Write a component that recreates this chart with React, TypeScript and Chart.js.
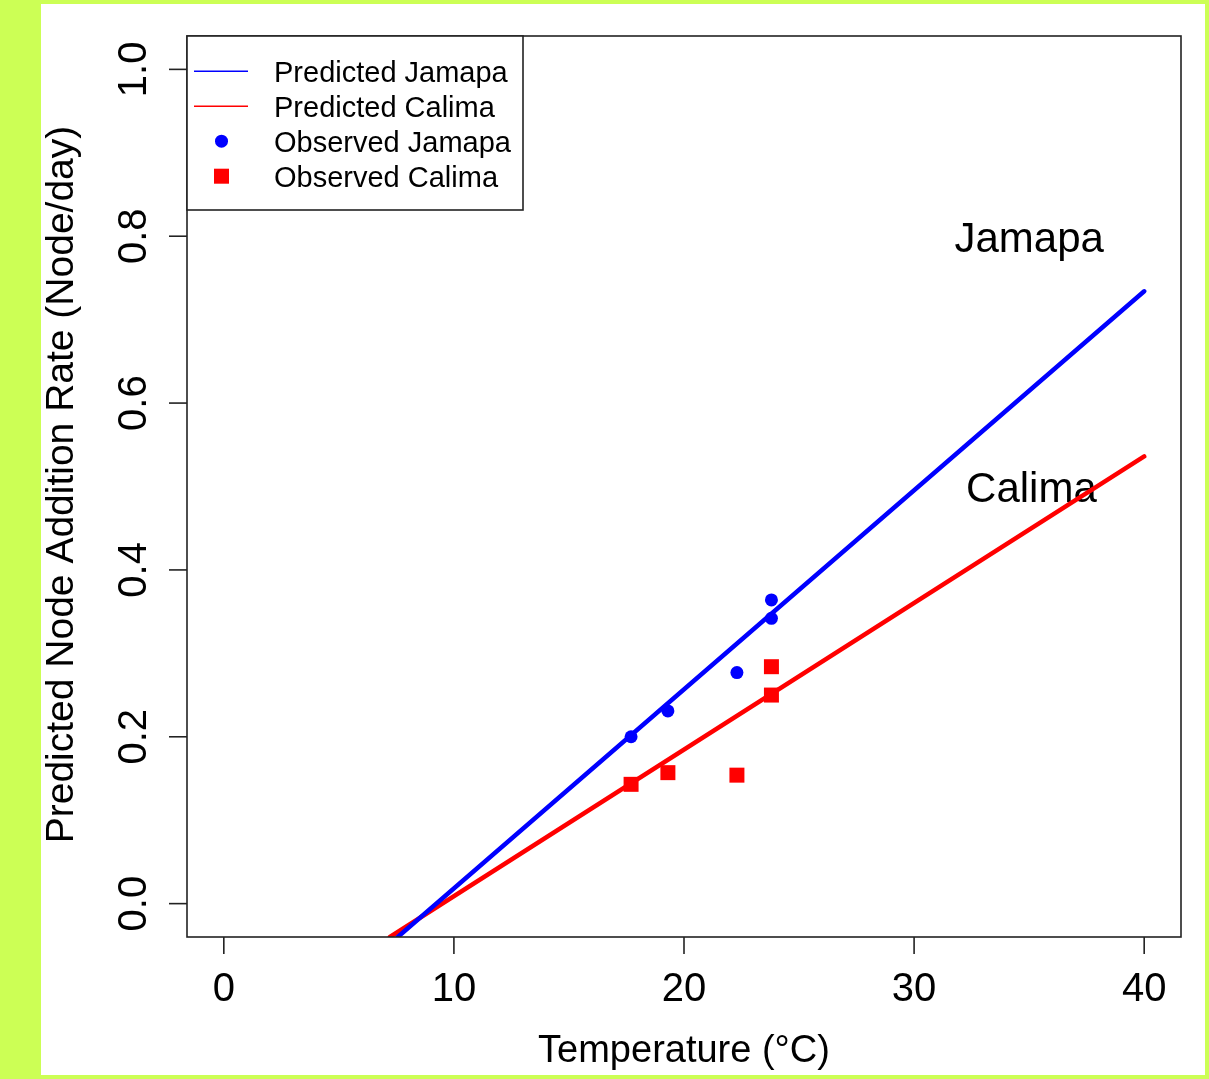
import React, { useEffect, useRef } from "react";
import { Chart, registerables } from "chart.js";

Chart.register(...registerables);

// ---- data ----
const predTempJamapa = [7.56, 40];
const predRateJamapa = [-0.04, 0.734];
const predTempCalima = [7.22, 40];
const predRateCalima = [-0.04, 0.536];

const obsTemp = [17.7, 19.3, 22.3, 23.8, 23.8];
const obsJamapa = [0.2, 0.231, 0.277, 0.342, 0.364];
const obsCalima = [0.143, 0.157, 0.154, 0.284, 0.25];

const xTicks = [0, 10, 20, 30, 40];
const xTickLabels = ["0", "10", "20", "30", "40"];
const yTicks = [0, 0.2, 0.4, 0.6, 0.8, 1.0];
const yTickLabels = ["0.0", "0.2", "0.4", "0.6", "0.8", "1.0"];

const annotations = [
  { text: "Jamapa", x: 35, y: 0.8 },
  { text: "Calima", x: 35.1, y: 0.5 },
];

const seriesLabels = ["Predicted Jamapa", "Predicted Calima", "Observed Jamapa", "Observed Calima"];
const BLUE = "#0000ff";
const RED = "#ff0000";
const FONT = "'Liberation Sans', Arial, sans-serif";

const toPts = (xs: number[], ys: number[]) => xs.map((x, i) => ({ x, y: ys[i] }));

const decorPlugin = {
  id: "decor",
  beforeDraw(chart: any) {
    const ctx = chart.ctx;
    ctx.save();
    ctx.fillStyle = "#ccff55";
    ctx.fillRect(0, 0, chart.width, chart.height);
    ctx.fillStyle = "#ffffff";
    ctx.fillRect(41, 4, 1164, 1071);
    ctx.restore();
  },
  beforeDatasetsDraw(chart: any) {
    const ctx = chart.ctx;
    const xs = chart.scales.x;
    const ys = chart.scales.y;
    ctx.save();
    ctx.fillStyle = "#000";
    ctx.font = `42px ${FONT}`;
    ctx.textAlign = "center";
    ctx.textBaseline = "alphabetic";
    for (const a of annotations) {
      ctx.fillText(a.text, xs.getPixelForValue(a.x), ys.getPixelForValue(a.y) + 15.5);
    }
    ctx.restore();
  },
  afterDatasetsDraw(chart: any) {
    const ctx = chart.ctx;
    const xs = chart.scales.x;
    const ys = chart.scales.y;
    const area = chart.chartArea;
    ctx.save();
    ctx.strokeStyle = "#222";
    ctx.lineWidth = 1.6;
    // box
    ctx.strokeRect(area.left, area.top, area.right - area.left, area.bottom - area.top);
    // x ticks
    ctx.fillStyle = "#000";
    ctx.font = `40px ${FONT}`;
    ctx.textAlign = "center";
    ctx.textBaseline = "alphabetic";
    xTicks.forEach((v, i) => {
      const px = xs.getPixelForValue(v);
      ctx.beginPath();
      ctx.moveTo(px, area.bottom);
      ctx.lineTo(px, area.bottom + 17);
      ctx.stroke();
      ctx.fillText(xTickLabels[i], px, 1001);
    });
    // y ticks
    yTicks.forEach((v, i) => {
      const py = ys.getPixelForValue(v);
      ctx.beginPath();
      ctx.moveTo(area.left, py);
      ctx.lineTo(area.left - 18, py);
      ctx.stroke();
      ctx.save();
      ctx.translate(146, py);
      ctx.rotate(-Math.PI / 2);
      ctx.fillText(yTickLabels[i], 0, 0);
      ctx.restore();
    });
    // titles
    ctx.font = `38px ${FONT}`;
    ctx.fillText("Temperature (°C)", (area.left + area.right) / 2, 1062);
    ctx.save();
    ctx.translate(73, (area.top + area.bottom) / 2 - 2);
    ctx.rotate(-Math.PI / 2);
    ctx.font = `39px ${FONT}`;
    ctx.fillText("Predicted Node Addition Rate (Node/day)", 0, 0);
    ctx.restore();

    // legend
    const lx = area.left;
    const ly = area.top;
    const lw = 336;
    const lh = 174;
    ctx.fillStyle = "#fff";
    ctx.fillRect(lx, ly, lw, lh);
    ctx.strokeStyle = "#222";
    ctx.lineWidth = 1.6;
    ctx.strokeRect(lx, ly, lw, lh);
    const baselines = [81.7, 116.7, 151.7, 186.7];
    const dsets = chart.data.datasets;
    ctx.font = `29px ${FONT}`;
    ctx.textAlign = "left";
    seriesLabels.forEach((lab, i) => {
      const ds = dsets[i];
      const cy = baselines[i] - 10.5;
      if (i < 2) {
        ctx.strokeStyle = ds.borderColor;
        ctx.lineWidth = 1.6;
        ctx.beginPath();
        ctx.moveTo(194, cy);
        ctx.lineTo(248, cy);
        ctx.stroke();
      } else if (i === 2) {
        ctx.fillStyle = ds.backgroundColor;
        ctx.beginPath();
        ctx.arc(221.5, cy, 6.5, 0, Math.PI * 2);
        ctx.fill();
      } else {
        ctx.fillStyle = ds.backgroundColor;
        ctx.fillRect(221.5 - 7.5, cy - 7.5, 15, 15);
      }
      ctx.fillStyle = "#000";
      ctx.fillText(lab, 274, baselines[i]);
    });
    ctx.restore();
  },
};

export default function App() {
  const ref = useRef<HTMLCanvasElement | null>(null);
  useEffect(() => {
    if (!ref.current) return;
    const chart = new Chart(ref.current, {
      type: "scatter",
      data: {
        datasets: [
          {
            label: seriesLabels[0],
            data: toPts(predTempJamapa, predRateJamapa),
            showLine: true,
            borderColor: BLUE,
            backgroundColor: BLUE,
            borderWidth: 4.5,
            borderCapStyle: "round",
            pointRadius: 0,
            order: 2,
            clip: 0,
          } as any,
          {
            label: seriesLabels[1],
            data: toPts(predTempCalima, predRateCalima),
            showLine: true,
            borderColor: RED,
            backgroundColor: RED,
            borderWidth: 4.5,
            borderCapStyle: "round",
            pointRadius: 0,
            order: 3,
            clip: 0,
          },
          {
            label: seriesLabels[2],
            data: toPts(obsTemp, obsJamapa),
            showLine: false,
            backgroundColor: BLUE,
            borderColor: BLUE,
            borderWidth: 0,
            pointStyle: "circle",
            pointRadius: 6.5,
            order: 0,
          },
          {
            label: seriesLabels[3],
            data: toPts(obsTemp, obsCalima),
            showLine: false,
            backgroundColor: RED,
            borderColor: RED,
            borderWidth: 0,
            pointStyle: "rect",
            pointRadius: 10.6,
            order: 1,
          },
        ],
      },
      options: {
        animation: false,
        responsive: false,
        maintainAspectRatio: false,
        layout: { padding: { left: 187, top: 36, right: 28, bottom: 142 } },
        scales: {
          x: { type: "linear", min: -1.6, max: 41.6, display: false },
          y: { type: "linear", min: -0.04, max: 1.04, display: false },
        },
        plugins: {
          legend: { display: false },
          tooltip: { enabled: false },
        },
      },
      plugins: [decorPlugin],
    });
    return () => chart.destroy();
  }, []);
  return (
    <div style={{ position: "fixed", left: 0, top: 0, width: 1209, height: 1079 }}>
      <canvas ref={ref} width={1209} height={1079} style={{ display: "block" }} />
    </div>
  );
}
